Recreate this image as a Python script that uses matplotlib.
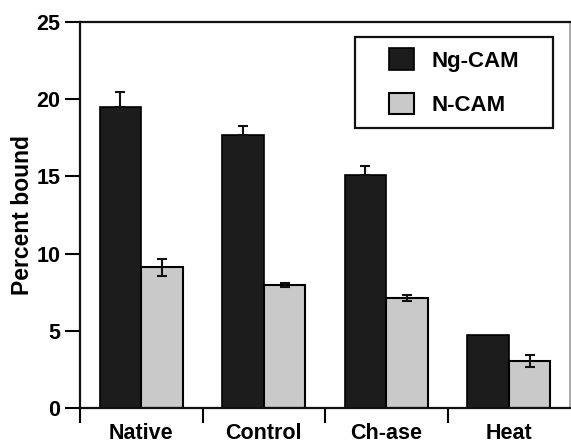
import matplotlib
matplotlib.use("Agg")
import matplotlib.pyplot as plt
import numpy as np
from matplotlib.patches import Rectangle

plt.rcParams['font.family'] = ['Liberation Sans', 'DejaVu Sans']
plt.rcParams['font.weight'] = 'bold'

categories = ["Native", "Control", "Ch-ase", "Heat"]
series_names = ["Ng-CAM", "N-CAM"]
ngcam = [19.5, 17.7, 15.1, 4.75]
ngcam_err = [0.95, 0.55, 0.6, 0.0]
ncam = [9.1, 7.95, 7.1, 3.05]
ncam_err = [0.55, 0.12, 0.2, 0.4]
yticks = [0, 5, 10, 15, 20, 25]

W, H = 571, 447
fig = plt.figure(figsize=(W / 100, H / 100), dpi=100)
ax = fig.add_axes([80 / W, (H - 408) / H, 490 / W, (408 - 22) / H])

x = np.arange(len(categories))
bw = 0.34
ekw = dict(elinewidth=1.5, capthick=1.5, ecolor='#111111')
ax.bar(x - bw / 2, ngcam, bw, color='#1c1c1c', edgecolor='#000000', linewidth=1.2,
       label=series_names[0])
ng_err = np.array(ngcam_err)
has = ng_err > 0
ax.errorbar((x - bw / 2)[has], np.array(ngcam)[has],
            yerr=[np.zeros(has.sum()), ng_err[has]], fmt='none', capsize=3.5, **ekw)
ax.bar(x + bw / 2, ncam, bw, color='#c9c9c9', edgecolor='#000000', linewidth=1.5,
       label=series_names[1])
ax.errorbar(x + bw / 2, ncam, yerr=ncam_err, fmt='none', capsize=3.5, **ekw)

ax.set_xlim(-0.5, len(categories) - 0.5)
ax.set_ylim(0, 25)
ax.set_yticks(yticks)
ax.set_yticklabels([str(v) for v in yticks], fontsize=15.5, fontweight='bold')
ax.set_xticks(x)
ax.set_xticklabels(categories, fontsize=15.5, fontweight='bold')
ax.tick_params(axis='x', which='major', length=0, pad=11)
ax.set_xticks(np.arange(len(categories)) - 0.5, minor=True)
ax.tick_params(axis='x', which='minor', length=11, width=1.5, direction='out')
ax.tick_params(axis='y', length=11, width=1.5, direction='out', pad=3)
ax.set_ylabel("Percent bound", fontsize=16.5, fontweight='bold', labelpad=2)

for s in ['left', 'bottom', 'top']:
    ax.spines[s].set_linewidth(1.6)
    ax.spines[s].set_color('#111111')
ax.spines['right'].set_linewidth(1.2)
ax.spines['right'].set_color('#999999')

leg = ax.legend(loc='upper left', bbox_to_anchor=((385 - 80) / 490, (408 - 44) / 386),
                frameon=False, prop={'weight': 'bold', 'size': 16},
                handlelength=1.1, handleheight=1.1, handletextpad=0.8,
                labelspacing=0.95, borderpad=0.2, borderaxespad=0)
fig.patches.append(Rectangle((355 / W, (H - 128) / H), (553 - 355) / W, (128 - 37) / H,
                             transform=fig.transFigure, fill=False,
                             edgecolor='#111111', linewidth=1.6, zorder=5))

fig.savefig("out.png", dpi=100)
